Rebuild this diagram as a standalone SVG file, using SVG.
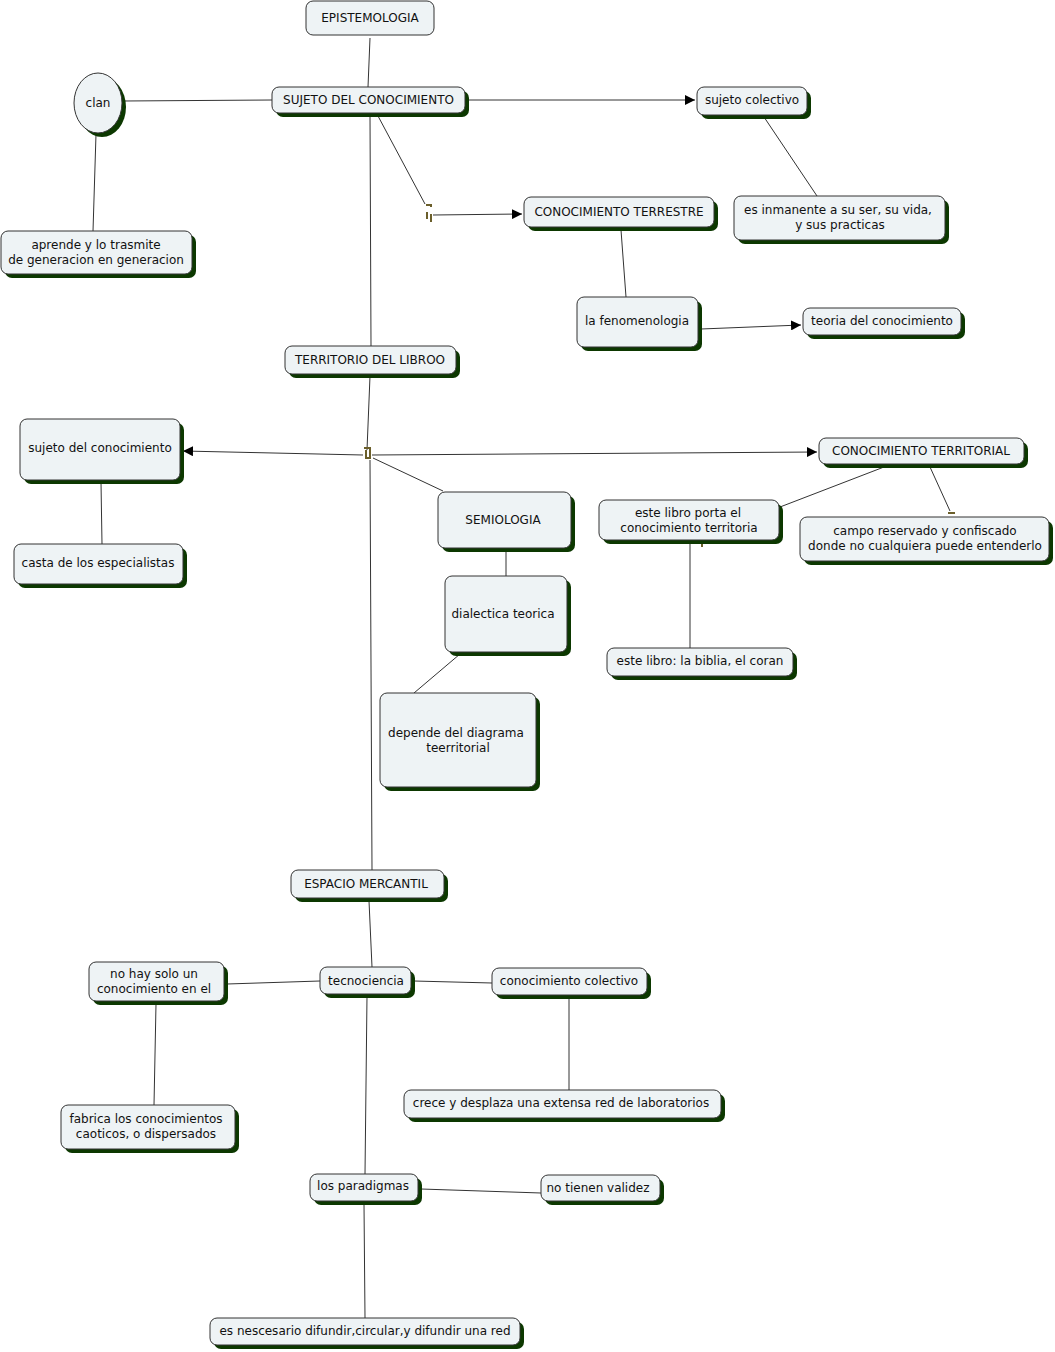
<svg xmlns="http://www.w3.org/2000/svg" width="1055" height="1352" viewBox="0 0 1055 1352">
<defs>
<marker id="arr" viewBox="0 0 10 10" refX="10" refY="5" markerWidth="10" markerHeight="10" markerUnits="userSpaceOnUse" orient="auto">
<path d="M0,0 L10,5 L0,10 z" fill="#000"/>
</marker>
<style>
.sh{fill:#0c3800;}
.bx{fill:#eef3f5;stroke:#333;stroke-width:1;}
text{font-family:"DejaVu Sans","Verdana",sans-serif;font-size:12px;fill:#111;text-anchor:middle;}
.ln{stroke:#333;stroke-width:1;fill:none;}
.lp{fill:none;stroke:#6b5f2b;stroke-width:2;}
</style>
</defs>
<rect width="1055" height="1352" fill="#fff"/>
<g id="connectors">
<line class="ln" x1="370" y1="38" x2="368" y2="87"/>
<line class="ln" x1="123" y1="101" x2="272" y2="100"/>
<line class="ln" x1="96" y1="134" x2="93" y2="231"/>
<line class="ln" x1="468" y1="100" x2="695" y2="100" marker-end="url(#arr)"/>
<line class="ln" x1="378" y1="116" x2="425" y2="204"/>
<line class="ln" x1="433" y1="215" x2="522" y2="214" marker-end="url(#arr)"/>
<line class="ln" x1="764" y1="117" x2="817" y2="196"/>
<line class="ln" x1="621" y1="230" x2="626" y2="297"/>
<line class="ln" x1="701" y1="329" x2="801" y2="325" marker-end="url(#arr)"/>
<line class="ln" x1="370" y1="116" x2="371" y2="346"/>
<line class="ln" x1="370" y1="376" x2="367" y2="450"/>
<line class="ln" x1="363" y1="455" x2="183" y2="451" marker-end="url(#arr)"/>
<line class="ln" x1="372" y1="455" x2="817" y2="452" marker-end="url(#arr)"/>
<line class="ln" x1="373" y1="458" x2="443" y2="491"/>
<line class="ln" x1="370" y1="460" x2="372" y2="870"/>
<line class="ln" x1="101" y1="482" x2="102" y2="544"/>
<line class="ln" x1="884" y1="467" x2="780" y2="507"/>
<line class="ln" x1="930" y1="467" x2="950" y2="511"/>
<line class="ln" x1="506" y1="550" x2="506" y2="576"/>
<line class="ln" x1="460" y1="654" x2="414" y2="693"/>
<line class="ln" x1="690" y1="543" x2="690" y2="648"/>
<line class="ln" x1="369" y1="901" x2="372" y2="967"/>
<line class="ln" x1="320" y1="981" x2="227" y2="984"/>
<line class="ln" x1="414" y1="981" x2="492" y2="983"/>
<line class="ln" x1="156" y1="1004" x2="154" y2="1105"/>
<line class="ln" x1="569" y1="997" x2="569" y2="1090"/>
<line class="ln" x1="367" y1="996" x2="365" y2="1174"/>
<line class="ln" x1="421" y1="1189" x2="541" y2="1193"/>
<line class="ln" x1="364" y1="1204" x2="365" y2="1318"/>
<path class="lp" d="M426,205 h5 v2 M427,212 v7 M431,214 v8"/>
<path class="lp" d="M364,448 h6 v9 M366,450 v8 h5"/>
<path class="lp" d="M948,513 h7"/>
<path class="lp" d="M702,542 v5"/>
</g>
<g id="n1"><rect class="bx" x="306" y="1" width="128" height="34" rx="7"/><text x="370" y="22">EPISTEMOLOGIA</text></g>
<g id="n2"><rect class="sh" x="276" y="91" width="193" height="26" rx="7"/><rect class="bx" x="272" y="87" width="193" height="26" rx="7"/><text x="368.5" y="104">SUJETO DEL CONOCIMIENTO</text></g>
<g id="n3"><ellipse class="sh" cx="102" cy="107" rx="24" ry="30"/><ellipse class="bx" cx="98" cy="103" rx="24" ry="30"/><text x="98" y="107">clan</text></g>
<g id="n4"><rect class="sh" x="5" y="235" width="191" height="43" rx="7"/><rect class="bx" x="1" y="231" width="191" height="43" rx="7"/><text x="96" y="249">aprende y lo trasmite</text><text x="96" y="264">de generacion en generacion</text></g>
<g id="n5"><rect class="sh" x="701" y="91" width="110" height="28" rx="7"/><rect class="bx" x="697" y="87" width="110" height="28" rx="7"/><text x="752" y="104">sujeto colectivo</text></g>
<g id="n6"><rect class="sh" x="528" y="201" width="190" height="30" rx="7"/><rect class="bx" x="524" y="197" width="190" height="30" rx="7"/><text x="619" y="216">CONOCIMIENTO TERRESTRE</text></g>
<g id="n7"><rect class="sh" x="738" y="200" width="211" height="44" rx="7"/><rect class="bx" x="734" y="196" width="211" height="44" rx="7"/><text x="838" y="214">es inmanente a su ser, su vida,</text><text x="840" y="229">y sus practicas</text></g>
<g id="n8"><rect class="sh" x="581" y="301" width="121" height="50" rx="7"/><rect class="bx" x="577" y="297" width="121" height="50" rx="7"/><text x="637" y="325">la fenomenologia</text></g>
<g id="n9"><rect class="sh" x="807" y="312" width="158" height="27" rx="7"/><rect class="bx" x="803" y="308" width="158" height="27" rx="7"/><text x="882" y="325">teoria del conocimiento</text></g>
<g id="n10"><rect class="sh" x="289" y="350" width="171" height="28" rx="7"/><rect class="bx" x="285" y="346" width="171" height="28" rx="7"/><text x="370" y="364">TERRITORIO DEL LIBROO</text></g>
<g id="n11"><rect class="sh" x="24" y="423" width="160" height="61" rx="7"/><rect class="bx" x="20" y="419" width="160" height="61" rx="7"/><text x="100" y="452">sujeto del conocimiento</text></g>
<g id="n12"><rect class="sh" x="18" y="548" width="169" height="40" rx="7"/><rect class="bx" x="14" y="544" width="169" height="40" rx="7"/><text x="98" y="567">casta de los especialistas</text></g>
<g id="n13"><rect class="sh" x="823" y="442" width="205" height="26" rx="7"/><rect class="bx" x="819" y="438" width="205" height="26" rx="7"/><text x="921" y="455">CONOCIMIENTO TERRITORIAL</text></g>
<g id="n14"><rect class="sh" x="442" y="496" width="133" height="56" rx="7"/><rect class="bx" x="438" y="492" width="133" height="56" rx="7"/><text x="503" y="524">SEMIOLOGIA</text></g>
<g id="n15"><rect class="sh" x="603" y="504" width="180" height="40" rx="7"/><rect class="bx" x="599" y="500" width="180" height="40" rx="7"/><text x="688" y="517">este libro porta el</text><text x="689" y="532">conocimiento territoria</text></g>
<g id="n16"><rect class="sh" x="804" y="521" width="249" height="44" rx="7"/><rect class="bx" x="800" y="517" width="249" height="44" rx="7"/><text x="925" y="535">campo reservado y confiscado</text><text x="925" y="550">donde no cualquiera puede entenderlo</text></g>
<g id="n17"><rect class="sh" x="449" y="580" width="122" height="76" rx="7"/><rect class="bx" x="445" y="576" width="122" height="76" rx="7"/><text x="503" y="618">dialectica teorica</text></g>
<g id="n18"><rect class="sh" x="611" y="652" width="186" height="28" rx="7"/><rect class="bx" x="607" y="648" width="186" height="28" rx="7"/><text x="700" y="665">este libro: la biblia, el coran</text></g>
<g id="n19"><rect class="sh" x="384" y="697" width="156" height="94" rx="7"/><rect class="bx" x="380" y="693" width="156" height="94" rx="7"/><text x="456" y="737">depende del diagrama</text><text x="458" y="752">teerritorial</text></g>
<g id="n20"><rect class="sh" x="295" y="874" width="153" height="28" rx="7"/><rect class="bx" x="291" y="870" width="153" height="28" rx="7"/><text x="366" y="888">ESPACIO MERCANTIL</text></g>
<g id="n21"><rect class="sh" x="324" y="971" width="91" height="27" rx="7"/><rect class="bx" x="320" y="967" width="91" height="27" rx="7"/><text x="366" y="985">tecnociencia</text></g>
<g id="n22"><rect class="sh" x="93" y="966" width="135" height="39" rx="7"/><rect class="bx" x="89" y="962" width="135" height="39" rx="7"/><text x="154" y="978">no hay solo un</text><text x="154" y="993">conocimiento en el</text></g>
<g id="n23"><rect class="sh" x="496" y="972" width="155" height="27" rx="7"/><rect class="bx" x="492" y="968" width="155" height="27" rx="7"/><text x="569" y="985">conocimiento colectivo</text></g>
<g id="n24"><rect class="sh" x="408" y="1094" width="317" height="28" rx="7"/><rect class="bx" x="404" y="1090" width="317" height="28" rx="7"/><text x="561" y="1107">crece y desplaza una extensa red de laboratorios</text></g>
<g id="n25"><rect class="sh" x="65" y="1109" width="174" height="44" rx="7"/><rect class="bx" x="61" y="1105" width="174" height="44" rx="7"/><text x="146" y="1123">fabrica los conocimientos</text><text x="146" y="1138">caoticos, o dispersados</text></g>
<g id="n26"><rect class="sh" x="314" y="1178" width="108" height="27" rx="7"/><rect class="bx" x="310" y="1174" width="108" height="27" rx="7"/><text x="363" y="1190">los paradigmas</text></g>
<g id="n27"><rect class="sh" x="545" y="1179" width="119" height="26" rx="7"/><rect class="bx" x="541" y="1175" width="119" height="26" rx="7"/><text x="598" y="1192">no tienen validez</text></g>
<g id="n28"><rect class="sh" x="214" y="1322" width="310" height="27" rx="7"/><rect class="bx" x="210" y="1318" width="310" height="27" rx="7"/><text x="365" y="1335">es nescesario difundir,circular,y difundir una red</text></g>
</svg>
